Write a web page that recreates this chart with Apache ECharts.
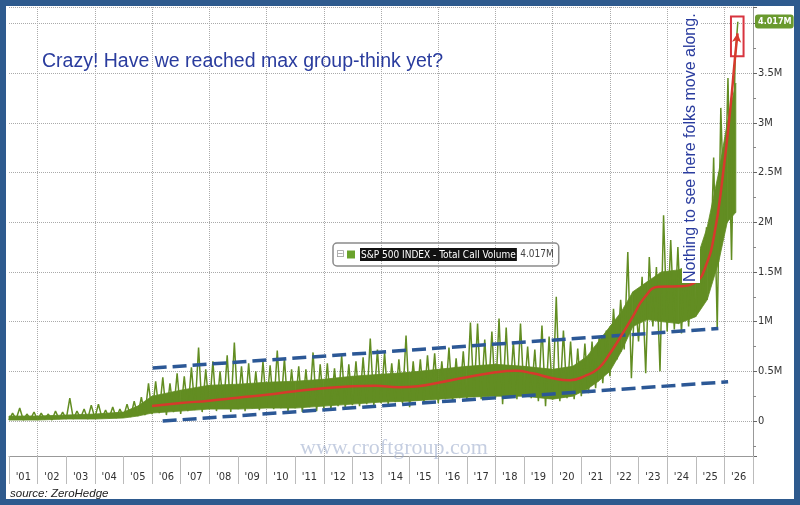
<!DOCTYPE html>
<html><head><meta charset="utf-8">
<script src="https://cdn.jsdelivr.net/npm/echarts@6/dist/echarts.min.js"></script>
<style>html,body{margin:0;padding:0;background:#fff}#c{width:800px;height:505px}</style>
</head><body><div id="c"></div>
<script>
// ---- data (values in millions of contracts) ----
const yearLabels = ["'01","'02","'03","'04","'05","'06","'07","'08","'09","'10","'11","'12","'13","'14","'15","'16","'17","'18","'19","'20","'21","'22","'23","'24","'25","'26"];
const startYear = 2001;      // first quarter of the readings
const quarterStep = 0.25;    // one low/high reading per quarter
// quarterly lowest daily volume
const lows = [
  0.01,0.02,0.01,0.02, 0.01,0.02,0.01,0.02, 0.02,0.02,0.03,0.02, 0.03,0.03,0.03,0.03,
  0.04,0.04,0.05,0.06, 0.07,0.08,0.06,0.09, 0.07,0.10,0.11,0.09, 0.12,0.10,0.13,0.09,
  0.12,0.10,0.13,0.11, 0.14,0.12,0.13,0.10, 0.13,0.09,0.14,0.10, 0.13,0.12,0.15,0.13,
  0.16,0.15,0.17,0.16, 0.18,0.17,0.19,0.18, 0.14,0.21,0.19,0.22, 0.18,0.22,0.20,0.23,
  0.21,0.24,0.22,0.25, 0.23,0.17,0.24,0.22, 0.25,0.23,0.20,0.15, 0.22,0.20,0.23,0.22,
  0.25,0.28,0.33,0.38, 0.45,0.62,0.72,0.43, 0.80,0.48,0.95,0.50, 0.90,0.92,0.88,0.95,
  1.10,1.28,1.35,0.93, 1.95,1.62
];
// quarterly highest daily volume
const highs = [
  0.08,0.13,0.07,0.09, 0.08,0.07,0.10,0.09, 0.23,0.10,0.12,0.16, 0.17,0.11,0.14,0.12,
  0.17,0.20,0.24,0.38, 0.40,0.44,0.38,0.48, 0.45,0.54,0.74,0.52, 0.60,0.50,0.66,0.79,
  0.55,0.58,0.50,0.60, 0.56,0.71,0.63,0.52, 0.55,0.52,0.69,0.57, 0.58,0.53,0.66,0.57,
  0.60,0.64,0.83,0.72, 0.69,0.58,0.62,0.86, 0.60,0.62,0.66,0.68, 0.60,0.74,0.63,0.70,
  0.99,0.98,0.82,0.90, 1.03,0.94,0.80,0.98, 0.75,0.72,0.96,0.85, 1.25,0.91,0.80,0.73,
  0.78,0.80,0.85,0.91, 1.13,1.22,1.70,1.30, 1.45,1.65,1.55,2.07, 1.82,1.75,1.68,1.60,
  1.65,1.95,2.65,3.15, 3.45,3.65
];
const lastDate = 2026.47;
const lastValue = 4.017;
// dense body of the daily series (where most days fall)
const bandDates = [2001.0,2002.0,2003.0,2004.0,2005.0,2005.5,2006.0,2007.0,2008.0,2009.0,2010.0,2011.0,2012.0,2013.0,2014.0,2015.0,2016.0,2017.0,2018.0,2019.0,2020.0,2020.7,2021.2,2021.6,2022.0,2022.4,2022.8,2023.3,2023.8,2024.4,2025.0,2025.4,2025.8,2026.1,2026.4];
const bandLow   = [0.01,0.01,0.02,0.02,0.03,0.05,0.08,0.10,0.12,0.12,0.13,0.13,0.15,0.17,0.19,0.20,0.22,0.24,0.25,0.25,0.22,0.25,0.32,0.40,0.50,0.70,0.95,1.02,1.00,0.98,1.05,1.22,1.60,2.00,2.10];
const bandTop   = [0.05,0.05,0.06,0.07,0.09,0.15,0.25,0.31,0.36,0.37,0.39,0.40,0.42,0.45,0.47,0.49,0.52,0.55,0.57,0.55,0.52,0.55,0.65,0.80,0.95,1.10,1.30,1.40,1.50,1.52,1.60,1.95,2.50,3.00,3.40];
// hand-drawn red trend
const trendDates  = [2006.0,2007.0,2008.0,2009.0,2010.0,2011.0,2012.0,2013.0,2013.8,2014.6,2015.3,2016.0,2017.0,2018.0,2018.7,2019.3,2020.0,2020.6,2021.1,2021.6,2022.0,2022.4,2022.8,2023.2,2023.7,2024.4,2025.0,2025.35,2025.65,2025.95,2026.2,2026.37,2026.46];
const trendValues = [0.15,0.18,0.205,0.235,0.265,0.30,0.33,0.35,0.355,0.34,0.35,0.385,0.44,0.49,0.505,0.48,0.43,0.41,0.45,0.53,0.68,0.86,1.05,1.24,1.35,1.355,1.40,1.56,1.88,2.48,3.12,3.65,3.90];
// hand-drawn blue channel
const upperChannel = [[2006.02, 0.533], [2025.79, 0.93]];
const lowerChannel = [[2006.37, 0.0], [2026.13, 0.395]];
// red highlight box corners
const highlightBox = [[2026.23, 4.07], [2026.67, 3.67]];
const seriesName = 'S&P 500 INDEX - Total Call Volume';

// ---- build ----
const rangeData = [];
lows.forEach((lo, i) => {
  const t = startYear + i * quarterStep;
  rangeData.push([t, lo]);
  rangeData.push([t + quarterStep / 2, highs[i]]);
});
rangeData.push([lastDate, lastValue]);
const bandData = bandDates.map((d, i) => [d, bandLow[i], bandTop[i]]);

const trendData = trendDates.map((d, i) => [d, trendValues[i]]);
const lastTrend = trendData.pop();
trendData.push({value: lastTrend, symbol: 'arrow', symbolSize: [7, 9], symbolRotate: -6});

const narrow = "'Liberation Sans Narrow','Arial Narrow','DejaVu Sans Condensed',sans-serif";
const lastLabel = lastValue.toFixed(3) + 'M';
const blue = '#2a3c9e';
const green = '#628d22';

const chart = echarts.init(document.getElementById('c'));
chart.setOption({
  animation: false,
  backgroundColor: '#fff',
  grid: {left: 9, right: 47, top: 7, bottom: 49, containLabel: false},
  title: [
    {text: 'Crazy! Have we reached max group-think yet?', left: 37, top: 47,
     textStyle: {color: blue, fontSize: 19.5, fontWeight: 'normal', fontFamily: "'Liberation Sans',Arial,sans-serif"}},
    {text: 'source: ZeroHedge', left: 5, top: 483,
     textStyle: {color: '#222', fontSize: 11.5, fontStyle: 'italic', fontWeight: 'normal', fontFamily: "'Liberation Sans',Arial,sans-serif"}},
    {text: 'www.croftgroup.com', left: 295, top: 432,
     textStyle: {color: 'rgba(150,165,200,0.55)', fontSize: 22, fontWeight: 'normal', fontFamily: "'Liberation Serif','DejaVu Serif',serif"}}
  ],
  legend: {
    left: 333, top: 243,
    data: [{name: seriesName, icon: 'rect', itemStyle: {color: '#6aa32c'}}],
    itemWidth: 8, itemHeight: 8, itemGap: 4,
    selectedMode: false,
    borderColor: '#8a8a8a', borderWidth: 1.5, borderRadius: 4,
    padding: [5, 5, 5, 14],
    formatter: n => '{n|' + n + '} {v|' + lastLabel + '}',
    textStyle: {
      rich: {
        n: {backgroundColor: '#111', color: '#fff', fontSize: 10, fontFamily: narrow, padding: [2, 1, 1, 1]},
        v: {color: '#444', fontSize: 10, fontFamily: narrow}
      }
    }
  },
  xAxis: [
    {type: 'value', min: 2001, max: 2027, show: false},
    {type: 'category', data: yearLabels, boundaryGap: true, position: 'bottom',
     axisLine: {show: true, lineStyle: {color: '#999'}},
     axisTick: {show: true, interval: 0, length: 28, lineStyle: {color: '#bbb'}},
     axisLabel: {interval: 0, margin: 16, fontSize: 11, color: '#333', fontFamily: narrow},
     splitLine: {show: true, interval: (i) => i % 2 === 1, lineStyle: {type: 'dotted', color: '#aaa'}}}
  ],
  yAxis: {
    type: 'value', position: 'right', min: -0.352, max: 4.165, splitNumber: 9,
    axisLine: {show: true, lineStyle: {color: '#999'}},
    axisTick: {show: true, length: 4, lineStyle: {color: '#666'}},
    minorTick: {show: true, splitNumber: 2, length: 3, lineStyle: {color: '#888'}},
    axisLabel: {showMinLabel: false, showMaxLabel: false, margin: 5, fontSize: 11, color: '#333', fontFamily: narrow,
      formatter: v => v === 0 ? '0' : (Math.round(v * 10) / 10) + 'M'},
    splitLine: {show: true, lineStyle: {type: 'dotted', color: '#aaa'}}
  },
  series: [
    {name: seriesName, type: 'custom', xAxisIndex: 0, yAxisIndex: 0, data: bandData, z: 2,
     itemStyle: {color: '#6aa32c'}, encode: {x: 0, y: [1, 2]},
     renderItem: (params, api) => {
       const i = params.dataIndex;
       if (i >= bandDates.length - 1) return null;
       const a = api.coord([bandDates[i], bandTop[i]]);
       const b = api.coord([bandDates[i + 1], bandTop[i + 1]]);
       const c = api.coord([bandDates[i + 1], bandLow[i + 1]]);
       const d = api.coord([bandDates[i], bandLow[i]]);
       return {type: 'polygon', shape: {points: [a, b, c, d]}, style: {fill: green, stroke: green, lineWidth: 0.8}};
     }},
    {name: 'daily range', type: 'line', xAxisIndex: 0, yAxisIndex: 0, data: rangeData, z: 2,
     symbol: 'none', lineStyle: {color: green, width: 1.5}},
    {name: 'upper', type: 'line', xAxisIndex: 0, data: upperChannel, symbol: 'none', z: 3,
     lineStyle: {color: '#2c5896', width: 3.5, type: [14, 6]}},
    {name: 'lower', type: 'line', xAxisIndex: 0, data: lowerChannel, symbol: 'none', z: 3,
     lineStyle: {color: '#2c5896', width: 3.5, type: [14, 6]}},
    {name: 'trend', type: 'line', xAxisIndex: 0, data: trendData, smooth: 0.5, showSymbol: true, symbol: 'none', z: 4,
     lineStyle: {color: '#d63a2c', width: 2.5}, itemStyle: {color: '#d63a2c'},
     markArea: {silent: true, itemStyle: {color: 'rgba(0,0,0,0)', borderColor: '#d8343f', borderWidth: 2},
       data: [[{coord: highlightBox[0]}, {coord: highlightBox[1]}]]},
     markLine: {silent: true, symbol: ['none', 'none'], lineStyle: {color: 'rgba(0,0,0,0)', width: 0.01, type: 'solid'},
       data: [{yAxis: lastValue}],
       label: {show: true, position: 'end', formatter: lastLabel, backgroundColor: '#6a9a2e', color: '#fff',
         fontSize: 9, fontWeight: 'bold', fontFamily: narrow, padding: [3, 2, 2, 3], borderRadius: 3, distance: 2}}}
  ],
  graphic: [
    {type: 'text', x: 691, y: 283, rotation: Math.PI / 2, z: 50,
     style: {text: 'Nothing to see here folks move along.', fill: blue, fontSize: 16,
       fontFamily: "'Liberation Sans',Arial,sans-serif", align: 'left', verticalAlign: 'middle',
       backgroundColor: '#fff', padding: [1, 1]}},
    {type: 'text', x: 336, y: 254, z: 50,
     style: {text: '⊟', fill: '#999', fontSize: 10, fontFamily: "'DejaVu Sans',sans-serif", verticalAlign: 'middle'}},
    {type: 'rect', z: 100, silent: true,
     shape: {x: 3, y: 3, width: 794, height: 499},
     style: {fill: 'none', stroke: '#2e5a8e', lineWidth: 6}}
  ]
});
</script>
</body></html>
